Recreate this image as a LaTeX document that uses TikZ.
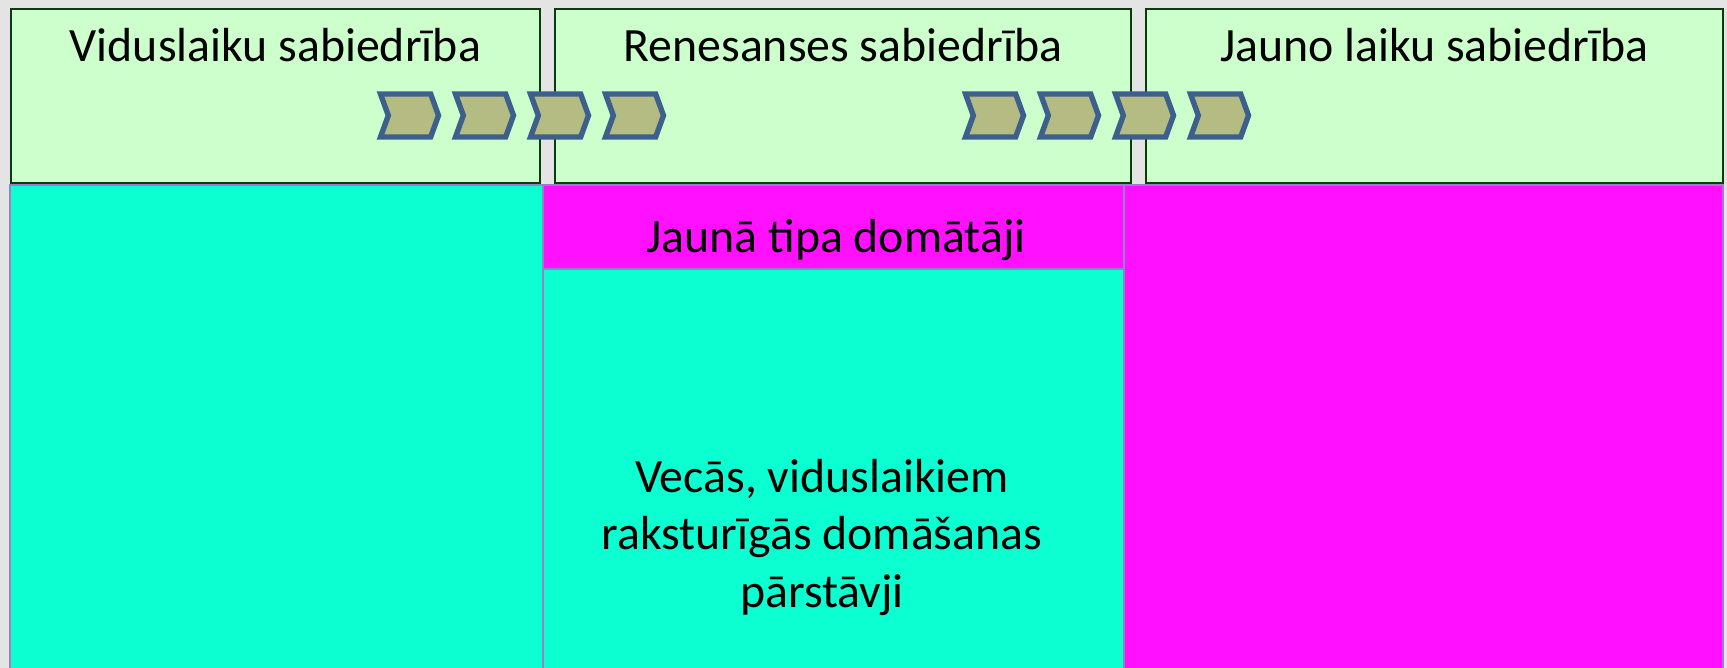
\documentclass[tikz,border=0pt]{standalone}
\usepackage{fontspec}
\setmainfont{Carlito}
\usetikzlibrary{shapes.symbols}

\definecolor{bgGray}{HTML}{E4E4E4}
\definecolor{paleGreen}{HTML}{CCFFCC}
\definecolor{darkGreen}{HTML}{0B3A0B}
\definecolor{aquaFill}{HTML}{0CFFD0}
\definecolor{pinkFill}{HTML}{FF10FF}
\definecolor{edgeViolet}{HTML}{9A7FC8}
\definecolor{chevOlive}{HTML}{B4BC84}
\definecolor{chevBlue}{HTML}{3D5F8C}

\begin{document}
\begin{tikzpicture}[x=0.5pt,y=-0.5pt,
    topbox/.style={draw=darkGreen,line width=1pt,fill=paleGreen,minimum height=87pt,inner sep=0pt,outer sep=0pt},
    lowbox/.style={draw=edgeViolet,line width=0.6pt,inner sep=0pt,outer sep=0pt},
    chev/.style={signal,signal to=east,signal from=west,signal pointer angle=140,draw=chevBlue,fill=chevOlive,line width=2.7pt,minimum width=29pt,minimum height=21.5pt,inner sep=0pt},
    title/.style={font=\fontsize{23.9}{28.75}\selectfont,anchor=base,inner sep=0pt}]

    \fill[bgGray] (0,0) rectangle (1727,668);
    \useasboundingbox (0,0) rectangle (1727,668);

    % top row
    \node[topbox,minimum width=264.5pt] (vid) at (275.5,96) {};
    \node[topbox,minimum width=288pt] (ren) at (843,96) {};
    \node[topbox,minimum width=288.5pt] (jau) at (1434.5,96) {};

    \node[title] (vidt) at (275.5,62) {Viduslaiku sabiedrība};
    \node[title] (rent) at (843,62) {Renesanses sabiedrība};
    \node[title] (jaut) at (1434.5,62) {Jauno laiku sabiedrība};

    % chevrons
    \node[chev] (l1) at (409.5,115.5) {};
    \node[chev] (l2) at (484.5,115.5) {};
    \node[chev] (l3) at (559.5,115.5) {};
    \node[chev] (l4) at (634.5,115.5) {};
    \node[chev] (r1) at (994.5,115.5) {};
    \node[chev] (r2) at (1069.5,115.5) {};
    \node[chev] (r3) at (1144.5,115.5) {};
    \node[chev] (r4) at (1219.5,115.5) {};

    % lower row
    \node[lowbox,fill=aquaFill,minimum width=266.5pt,minimum height=245pt] (old) at (276.5,430) {};
    \node[lowbox,fill=pinkFill,minimum width=290.5pt,minimum height=42.5pt] (newt) at (833.5,227.5) {};
    \node[lowbox,fill=aquaFill,minimum width=290.5pt,minimum height=203pt] (oldt) at (833.5,472) {};
    \node[lowbox,fill=pinkFill,minimum width=299.5pt,minimum height=245pt] (mod) at (1423.5,430) {};

    \node[title] (newl) at (836,252) {Jaunā tipa domātāji};
    \node[title,align=center] (oldl) at (822,607) {Vecās, viduslaikiem\\raksturīgās domāšanas\\pārstāvji};
\end{tikzpicture}
\end{document}
